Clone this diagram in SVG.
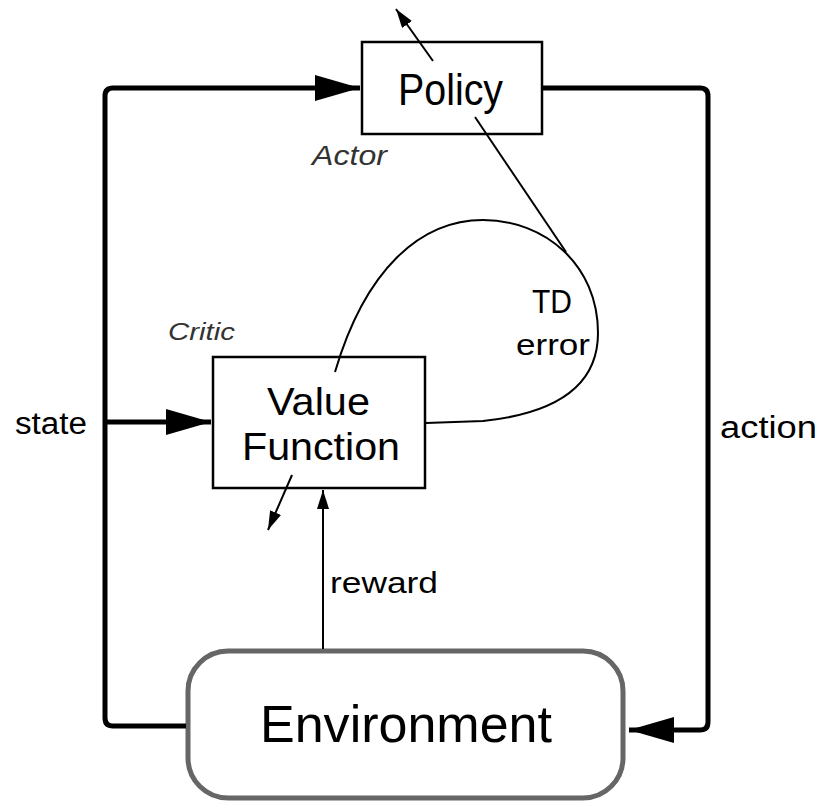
<svg xmlns="http://www.w3.org/2000/svg" width="818" height="801" viewBox="0 0 818 801">
<style>
.box{fill:#fff;stroke:#000;stroke-width:2.5}
.env{fill:#fff;stroke:#666;stroke-width:5}
.thick{fill:none;stroke:#000;stroke-width:5}
.thin{fill:none;stroke:#000;stroke-width:2}
.t{font-family:"Liberation Sans",Arial,sans-serif;fill:#000}
.i{font-family:"Liberation Sans",Arial,sans-serif;font-style:italic;fill:#333}
</style>
<defs>
<marker id="big" markerUnits="userSpaceOnUse" markerWidth="46" markerHeight="26" refX="45" refY="13" orient="auto">
<path d="M0,0 L45,13 L0,26 z" fill="#000"/>
</marker>
<marker id="small" markerUnits="userSpaceOnUse" markerWidth="20" markerHeight="12" refX="19" refY="6" orient="auto">
<path d="M0,0 L19,6 L0,12 z" fill="#000"/>
</marker>
</defs>
<g id="policy">
<rect class="box" x="362" y="42" width="180" height="92"/>
<text class="t" x="398" y="105" font-size="44" textLength="105" lengthAdjust="spacingAndGlyphs">Policy</text>
</g>
<g id="value-function">
<rect class="box" x="213" y="357" width="212" height="131"/>
<text class="t" x="267" y="415" font-size="39" textLength="103" lengthAdjust="spacingAndGlyphs">Value</text>
<text class="t" x="242" y="460" font-size="39" textLength="158" lengthAdjust="spacingAndGlyphs">Function</text>
</g>
<g id="environment">
<rect class="env" x="188" y="651" width="435" height="147" rx="40" ry="40"/>
<text class="t" x="260" y="742" font-size="52" textLength="292" lengthAdjust="spacingAndGlyphs">Environment</text>
</g>
<g id="connectors">
<path class="thick" d="M186,726 L113,726 Q105,726 105,718 L105,96 Q105,88 113,88 L360,88" marker-end="url(#big)"/>
<path class="thick" d="M105,422 L211,422" marker-end="url(#big)"/>
<path class="thick" d="M543,88 L700,88 Q708,88 708,96 L708,722 Q708,730 700,730 L629,730" marker-end="url(#big)"/>
<path class="thin" d="M426,423 L483,421 C540,415 598,395 598,333 C598,265 545,220 483,220 C420,220 365,270 335,372"/>
<path class="thin" d="M475,117 L566,252"/>
<path class="thin" d="M433,61 L396,9" marker-end="url(#small)"/>
<path class="thin" d="M292,475 L268,530" marker-end="url(#small)"/>
<path class="thin" d="M323,649 L323,490" stroke-width="2.5" marker-end="url(#small)"/>
</g>
<g id="labels">
<text class="i" x="312" y="165" font-size="27" textLength="75" lengthAdjust="spacingAndGlyphs">Actor</text>
<text class="i" x="168" y="340" font-size="24" textLength="67" lengthAdjust="spacingAndGlyphs">Critic</text>
<text class="t" x="532" y="313" font-size="34" textLength="40" lengthAdjust="spacingAndGlyphs">TD</text>
<text class="t" x="516" y="355" font-size="30" textLength="74" lengthAdjust="spacingAndGlyphs">error</text>
<text class="t" x="15" y="434" font-size="31" textLength="72" lengthAdjust="spacingAndGlyphs">state</text>
<text class="t" x="720" y="438" font-size="31" textLength="97" lengthAdjust="spacingAndGlyphs">action</text>
<text class="t" x="330" y="593" font-size="30" textLength="108" lengthAdjust="spacingAndGlyphs">reward</text>
</g>
</svg>
